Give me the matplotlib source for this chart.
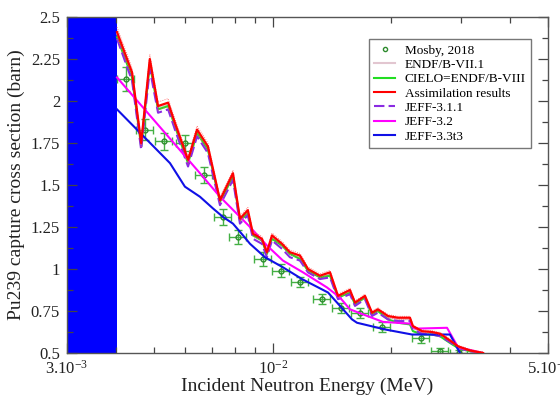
import numpy as np
import matplotlib.pyplot as plt
from matplotlib.lines import Line2D
from matplotlib.ticker import FixedLocator, FixedFormatter, NullFormatter

plt.rcParams['font.family'] = ['Liberation Serif', 'DejaVu Serif']
plt.rcParams['mathtext.fontset'] = 'stix'

# --- data (energy in MeV, cross section in barn) ---
band_edge = 4.02e-3  # end of the shaded resonance region

# shared energy grid for the evaluations with resonance structure
e_grid = [4.02e-3, 4.39e-3, 4.63e-3, 4.87e-3, 5.11e-3, 5.42e-3, 5.64e-3, 6.09e-3,
          6.42e-3, 6.84e-3, 7.34e-3, 7.92e-3, 8.25e-3, 8.64e-3, 8.90e-3, 9.38e-3,
          9.66e-3, 9.95e-3, 1.055e-2, 1.105e-2, 1.172e-2, 1.228e-2, 1.317e-2,
          1.397e-2, 1.464e-2, 1.570e-2, 1.617e-2, 1.714e-2, 1.786e-2, 1.849e-2,
          1.961e-2, 2.079e-2, 2.230e-2, 2.269e-2, 2.392e-2, 2.537e-2, 2.658e-2,
          2.818e-2, 2.953e-2, 3.168e-2, 3.418e-2]

assim = [2.41, 2.17, 1.75, 2.25, 1.97, 1.99, 1.87, 1.65, 1.83, 1.73, 1.41, 1.57,
         1.30, 1.35, 1.21, 1.18, 1.10, 1.20, 1.15, 1.10, 1.08, 1.00, 0.96, 0.98,
         0.84, 0.875, 0.80, 0.84, 0.74, 0.76, 0.72, 0.71, 0.71, 0.66, 0.63, 0.625,
         0.615, 0.575, 0.54, 0.515, 0.50]
assim_rel_unc = 0.012

endf71 = [2.40, 2.16, 1.74, 2.24, 1.96, 1.98, 1.86, 1.64, 1.82, 1.72, 1.40, 1.56,
          1.29, 1.34, 1.20, 1.17, 1.09, 1.19, 1.14, 1.09, 1.07, 0.99, 0.95, 0.97,
          0.83, 0.86, 0.79, 0.83, 0.73, 0.75, 0.71, 0.70, 0.70, 0.65, 0.62, 0.62,
          0.61, 0.57, 0.535, 0.51, 0.50]

cielo = [2.38, 2.14, 1.73, 2.22, 1.95, 1.97, 1.85, 1.63, 1.81, 1.71, 1.40, 1.55,
         1.29, 1.33, 1.20, 1.17, 1.09, 1.18, 1.14, 1.09, 1.06, 0.99, 0.95, 0.96,
         0.83, 0.86, 0.79, 0.83, 0.73, 0.75, 0.70, 0.68, 0.67, 0.63, 0.61, 0.61,
         0.60, 0.56, 0.53, 0.51, 0.50]

jeff311 = [2.37, 2.12, 1.71, 2.19, 1.93, 1.95, 1.83, 1.61, 1.79, 1.69, 1.38, 1.53,
           1.27, 1.32, 1.18, 1.15, 1.07, 1.17, 1.12, 1.07, 1.05, 0.98, 0.94, 0.95,
           0.82, 0.85, 0.78, 0.82, 0.72, 0.74, 0.70, 0.69, 0.69, 0.64, 0.615, 0.61,
           0.60, 0.565, 0.53, 0.51, 0.50]

jeff32_e = [4.02e-3, 6.53e-3, 7.34e-3, 8.75e-3, 9.66e-3, 1.061e-2, 1.193e-2,
            1.373e-2, 1.481e-2, 1.570e-2, 1.694e-2, 1.905e-2, 2.230e-2, 2.297e-2,
            2.770e-2, 2.953e-2, 3.418e-2]
jeff32 = [2.14, 1.57, 1.43, 1.25, 1.14, 1.05, 0.98, 0.89, 0.83, 0.76, 0.73, 0.685,
          0.675, 0.645, 0.65, 0.535, 0.50]

jeff33_e = [4.02e-3, 5.48e-3, 5.98e-3, 6.53e-3, 7.05e-3, 7.47e-3, 7.92e-3, 8.40e-3,
            8.75e-3, 9.55e-3, 1.061e-2, 1.186e-2, 1.381e-2, 1.589e-2, 1.636e-2,
            1.928e-2, 2.257e-2, 2.818e-2, 2.988e-2]
jeff33 = [1.95, 1.63, 1.49, 1.43, 1.36, 1.31, 1.27, 1.20, 1.15, 1.07, 1.01, 0.94,
          0.86, 0.70, 0.68, 0.64, 0.61, 0.61, 0.50]

mosby_e = [4.24e-3, 4.73e-3, 5.29e-3, 5.98e-3, 6.69e-3, 7.47e-3, 8.16e-3, 9.44e-3,
           1.049e-2, 1.172e-2, 1.333e-2, 1.490e-2, 1.665e-2, 1.893e-2, 2.378e-2,
           2.66e-2, 2.97e-2]
mosby = [2.13, 1.83, 1.76, 1.75, 1.56, 1.31, 1.19, 1.06, 0.99, 0.92, 0.82, 0.77,
         0.74, 0.655, 0.59, 0.51, 0.50]
mosby_err = [0.07, 0.06, 0.05, 0.05, 0.05, 0.05, 0.04, 0.04, 0.04, 0.03, 0.03, 0.03,
             0.03, 0.03, 0.03, 0.02, 0.02]
mosby_rel_de = 0.05

y_ticks = [0.5, 0.75, 1.0, 1.25, 1.5, 1.75, 2.0, 2.25, 2.5]
y_tick_labels = ['0.5', '0.75', '1', '1.25', '1.5', '1.75', '2', '2.25', '2.5']
x_ticks = [3e-3, 1e-2, 5e-2]
x_tick_labels = [r'$\mathregular{3.10^{-3}}$', r'$\mathregular{10^{-2}}$',
                 r'$\mathregular{5.10^{-2}}$']

# --- figure ---
fig = plt.figure(figsize=(5.6, 3.96), dpi=100)
ax = fig.add_axes([0.1196, 0.1086, 0.859, 0.8485])
ax.set_xscale('log')
ax.set_xlim(3e-3, 5e-2)
ax.set_ylim(0.5, 2.5)

ax.axvspan(3e-3, band_edge, color='#0000ff', lw=0, zorder=1)

me = np.array(mosby_e)
ax.errorbar(me, mosby, yerr=mosby_err,
            xerr=[me * mosby_rel_de, me * mosby_rel_de],
            fmt='o', ms=3.5, mfc='none', mec='#2e8b2e', mew=1.0,
            ecolor='#44b044', elinewidth=1.0, capsize=3, zorder=2)

ax.plot(e_grid, endf71, color='#e2c6d0', lw=1.2, zorder=3)
ax.plot(e_grid, cielo, color='#22dd22', lw=1.5, zorder=4)
ax.plot(e_grid, jeff311, color='#8a2be2', lw=1.5, ls=(0, (5, 2)), zorder=4)
ax.plot(jeff32_e, jeff32, color='#ff00ff', lw=1.5, zorder=5)
ax.plot(jeff33_e, jeff33, color='#1010e6', lw=1.5, zorder=5)

# assimilation result with its thin dotted uncertainty envelope
a = np.array(assim)
ax.plot(e_grid, a * (1 + assim_rel_unc), color='#ff5050', lw=0.6, ls=':', zorder=6)
ax.plot(e_grid, a * (1 - assim_rel_unc), color='#ff5050', lw=0.6, ls=':', zorder=6)
ax.plot(e_grid, assim, color='#ff0000', lw=1.6, zorder=6)

# ticks
ax.xaxis.set_major_locator(FixedLocator(x_ticks))
ax.xaxis.set_major_formatter(FixedFormatter(x_tick_labels))
ax.xaxis.set_minor_locator(FixedLocator([4e-3, 5e-3, 6e-3, 7e-3, 8e-3, 9e-3,
                                         2e-2, 3e-2, 4e-2]))
ax.xaxis.set_minor_formatter(NullFormatter())
ax.yaxis.set_major_locator(FixedLocator(y_ticks))
ax.yaxis.set_major_formatter(FixedFormatter(y_tick_labels))
ax.yaxis.set_minor_locator(FixedLocator(np.arange(0.625, 2.5, 0.25)))
ax.tick_params(which='both', direction='in', top=True, right=True, colors='#444444')
ax.tick_params(which='major', length=7, width=0.9, labelsize=12, pad=5, labelcolor='#222222')
ax.tick_params(which='minor', length=4, width=0.9)
for s in ax.spines.values():
    s.set_color('#555555')
    s.set_linewidth(1.0)

ax.set_xlabel('Incident Neutron Energy (MeV)', fontsize=14, color='#222222', labelpad=0)
ax.set_ylabel('Pu239 capture cross section (barn)', fontsize=14, color='#222222', labelpad=4)

# legend with proxy handles
handles = [
    Line2D([], [], ls='none', marker='o', ms=3, mfc='none', mec='#2e8b2e', mew=1.0),
    Line2D([], [], color='#e2c6d0', lw=1.5),
    Line2D([], [], color='#22dd22', lw=1.5),
    Line2D([], [], color='#ff0000', lw=1.5),
    Line2D([], [], color='#8a2be2', lw=1.5, ls=(0, (5, 2))),
    Line2D([], [], color='#ff00ff', lw=1.5),
    Line2D([], [], color='#1010e6', lw=1.5),
]
labels = ['Mosby, 2018', 'ENDF/B-VII.1', 'CIELO=ENDF/B-VIII', 'Assimilation results',
          'JEFF-3.1.1', 'JEFF-3.2', 'JEFF-3.3t3']
leg = ax.legend(handles, labels, loc='upper left', bbox_to_anchor=(0.628, 0.9345),
                fontsize=9.5, frameon=True, fancybox=False, borderaxespad=0,
                handlelength=1.6, handletextpad=0.7, labelspacing=0.16,
                borderpad=0.4)
leg.get_frame().set_edgecolor('#555555')
leg.get_frame().set_linewidth(1.0)

fig.savefig('out.png', dpi=100)
